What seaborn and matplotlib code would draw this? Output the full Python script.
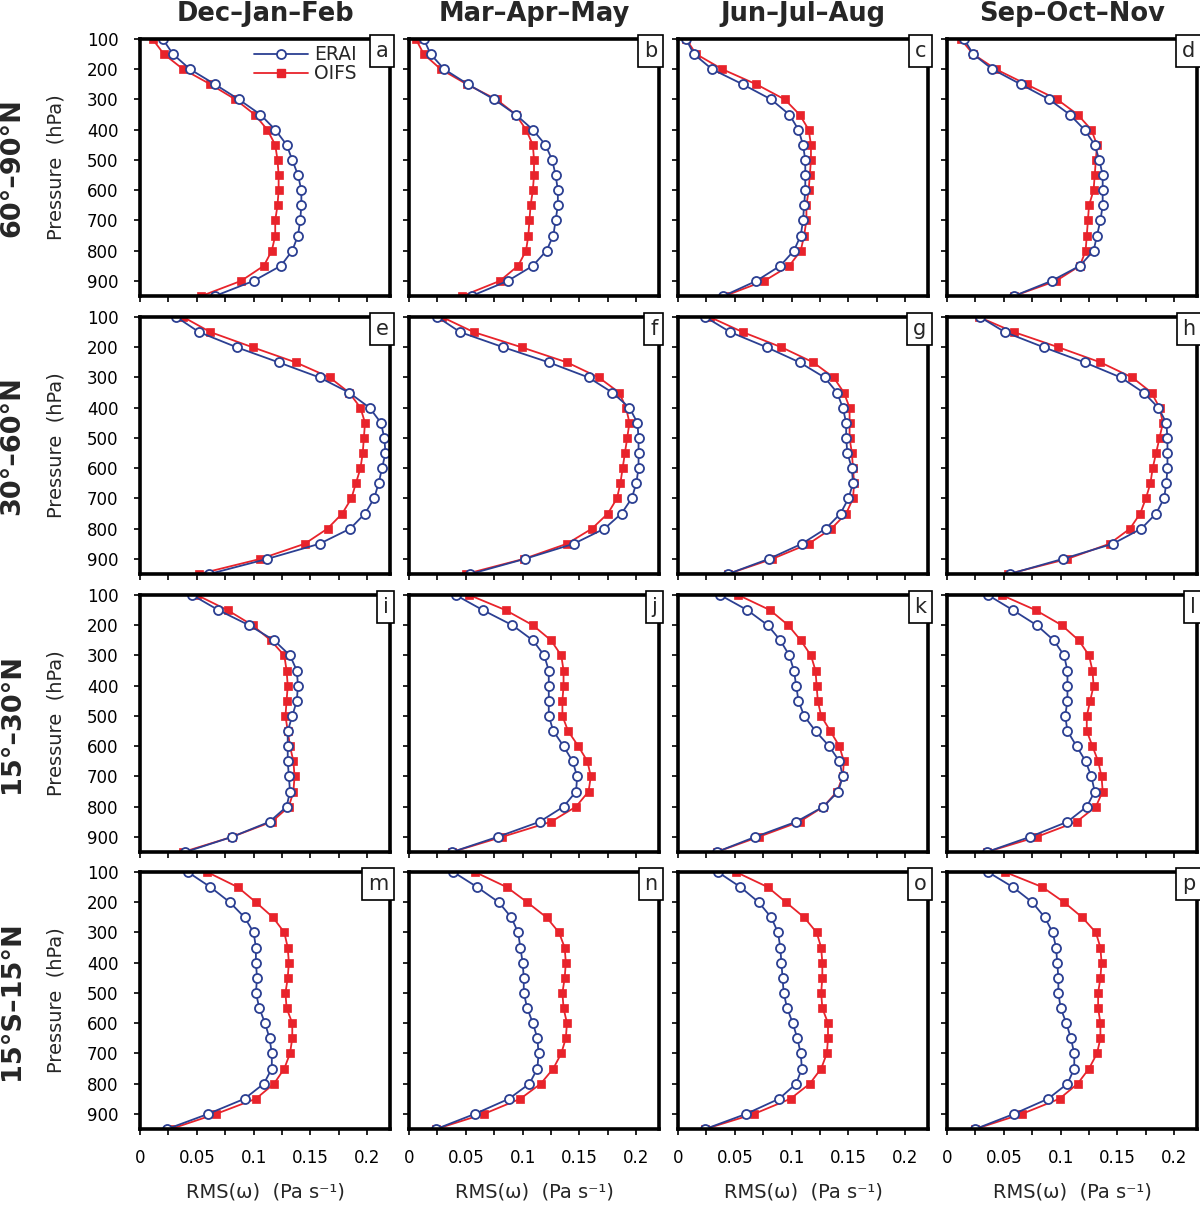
import matplotlib
matplotlib.use("Agg")
import matplotlib.pyplot as plt
import seaborn as sns
import pandas as pd
from matplotlib.ticker import MultipleLocator, FuncFormatter
from matplotlib.lines import Line2D

# ---------------- data ----------------
pressure = [100, 150, 200, 250, 300, 350, 400, 450, 500, 550, 600, 650, 700, 750, 800, 850, 900, 950]
seasons = ["Dec–Jan–Feb", "Mar–Apr–May", "Jun–Jul–Aug", "Sep–Oct–Nov"]
regions = ["60°–90°N", "30°–60°N", "15°–30°N", "15°S–15°N"]
letters = ["a", "b", "c", "d", "e", "f", "g", "h", "i", "j", "k", "l", "m", "n", "o", "p"]
series_names = ["ERAI", "OIFS"]
ytick_values = [100, 200, 300, 400, 500, 600, 700, 800, 900]

erai_a = [0.020, 0.029, 0.044, 0.066, 0.087, 0.106, 0.119, 0.129, 0.134, 0.139, 0.142, 0.142, 0.141, 0.139, 0.134, 0.124, 0.100, 0.066]
oifs_a = [0.011, 0.021, 0.038, 0.062, 0.084, 0.101, 0.112, 0.119, 0.121, 0.122, 0.122, 0.121, 0.119, 0.119, 0.116, 0.109, 0.089, 0.054]
erai_b = [0.013, 0.019, 0.031, 0.052, 0.075, 0.094, 0.109, 0.120, 0.126, 0.129, 0.131, 0.131, 0.129, 0.127, 0.121, 0.109, 0.087, 0.055]
oifs_b = [0.006, 0.013, 0.028, 0.051, 0.077, 0.094, 0.103, 0.109, 0.110, 0.110, 0.109, 0.107, 0.106, 0.105, 0.103, 0.096, 0.080, 0.047]
erai_c = [0.007, 0.014, 0.030, 0.057, 0.082, 0.098, 0.106, 0.110, 0.112, 0.112, 0.112, 0.111, 0.110, 0.108, 0.102, 0.090, 0.069, 0.040]
oifs_c = [0.007, 0.016, 0.039, 0.069, 0.094, 0.107, 0.115, 0.117, 0.117, 0.116, 0.115, 0.113, 0.113, 0.111, 0.108, 0.098, 0.076, 0.041]
erai_d = [0.015, 0.023, 0.040, 0.065, 0.090, 0.108, 0.121, 0.130, 0.134, 0.137, 0.137, 0.137, 0.135, 0.132, 0.129, 0.117, 0.092, 0.059]
oifs_d = [0.012, 0.023, 0.043, 0.070, 0.097, 0.115, 0.127, 0.132, 0.131, 0.130, 0.129, 0.125, 0.124, 0.123, 0.122, 0.117, 0.096, 0.059]
erai_e = [0.032, 0.052, 0.085, 0.122, 0.158, 0.184, 0.202, 0.212, 0.215, 0.216, 0.213, 0.210, 0.206, 0.198, 0.185, 0.158, 0.112, 0.061]
oifs_e = [0.038, 0.062, 0.099, 0.137, 0.167, 0.184, 0.194, 0.198, 0.197, 0.196, 0.194, 0.190, 0.186, 0.178, 0.165, 0.145, 0.106, 0.052]
erai_f = [0.025, 0.045, 0.083, 0.123, 0.158, 0.179, 0.194, 0.201, 0.202, 0.202, 0.202, 0.200, 0.196, 0.187, 0.172, 0.145, 0.102, 0.054]
oifs_f = [0.029, 0.057, 0.099, 0.139, 0.167, 0.185, 0.191, 0.194, 0.192, 0.190, 0.188, 0.186, 0.183, 0.175, 0.161, 0.139, 0.101, 0.050]
erai_g = [0.024, 0.046, 0.078, 0.107, 0.129, 0.140, 0.145, 0.148, 0.148, 0.149, 0.153, 0.154, 0.150, 0.143, 0.130, 0.109, 0.080, 0.044]
oifs_g = [0.028, 0.057, 0.091, 0.119, 0.137, 0.146, 0.151, 0.151, 0.151, 0.153, 0.154, 0.155, 0.154, 0.148, 0.135, 0.115, 0.083, 0.044]
erai_h = [0.029, 0.051, 0.085, 0.121, 0.153, 0.173, 0.186, 0.193, 0.194, 0.194, 0.194, 0.193, 0.191, 0.184, 0.171, 0.146, 0.102, 0.055]
oifs_h = [0.028, 0.059, 0.098, 0.135, 0.163, 0.180, 0.187, 0.190, 0.187, 0.184, 0.181, 0.179, 0.175, 0.170, 0.161, 0.143, 0.106, 0.054]
erai_i = [0.046, 0.069, 0.096, 0.118, 0.132, 0.138, 0.139, 0.138, 0.134, 0.130, 0.130, 0.130, 0.131, 0.132, 0.129, 0.114, 0.081, 0.040]
oifs_i = [0.050, 0.077, 0.099, 0.115, 0.127, 0.129, 0.130, 0.129, 0.128, 0.130, 0.132, 0.135, 0.136, 0.135, 0.131, 0.116, 0.081, 0.038]
erai_j = [0.041, 0.065, 0.091, 0.109, 0.119, 0.123, 0.123, 0.123, 0.123, 0.127, 0.136, 0.144, 0.148, 0.147, 0.136, 0.115, 0.078, 0.038]
oifs_j = [0.053, 0.085, 0.109, 0.125, 0.134, 0.136, 0.136, 0.135, 0.135, 0.140, 0.149, 0.157, 0.160, 0.158, 0.147, 0.125, 0.082, 0.038]
erai_k = [0.037, 0.061, 0.079, 0.090, 0.098, 0.102, 0.104, 0.106, 0.111, 0.121, 0.133, 0.142, 0.145, 0.141, 0.128, 0.104, 0.068, 0.034]
oifs_k = [0.053, 0.081, 0.097, 0.108, 0.117, 0.121, 0.122, 0.123, 0.126, 0.134, 0.142, 0.146, 0.145, 0.140, 0.128, 0.107, 0.071, 0.034]
erai_l = [0.036, 0.058, 0.079, 0.094, 0.103, 0.106, 0.106, 0.106, 0.104, 0.106, 0.114, 0.122, 0.127, 0.130, 0.123, 0.106, 0.073, 0.035]
oifs_l = [0.048, 0.078, 0.101, 0.116, 0.125, 0.128, 0.129, 0.126, 0.123, 0.123, 0.128, 0.133, 0.136, 0.137, 0.131, 0.114, 0.079, 0.035]
erai_m = [0.042, 0.062, 0.079, 0.092, 0.100, 0.102, 0.102, 0.103, 0.102, 0.105, 0.110, 0.114, 0.116, 0.116, 0.109, 0.092, 0.060, 0.024]
oifs_m = [0.059, 0.086, 0.102, 0.117, 0.127, 0.130, 0.131, 0.130, 0.128, 0.129, 0.134, 0.134, 0.132, 0.127, 0.118, 0.102, 0.067, 0.027]
erai_n = [0.039, 0.060, 0.079, 0.090, 0.096, 0.098, 0.100, 0.101, 0.101, 0.104, 0.109, 0.113, 0.114, 0.113, 0.106, 0.088, 0.058, 0.024]
oifs_n = [0.058, 0.086, 0.104, 0.121, 0.132, 0.137, 0.138, 0.137, 0.135, 0.136, 0.139, 0.138, 0.134, 0.127, 0.116, 0.098, 0.066, 0.024]
erai_o = [0.035, 0.055, 0.071, 0.082, 0.088, 0.090, 0.091, 0.092, 0.093, 0.096, 0.101, 0.105, 0.108, 0.109, 0.104, 0.089, 0.060, 0.024]
oifs_o = [0.051, 0.079, 0.095, 0.111, 0.122, 0.126, 0.127, 0.127, 0.126, 0.127, 0.132, 0.132, 0.131, 0.126, 0.116, 0.099, 0.067, 0.024]
erai_p = [0.036, 0.058, 0.075, 0.086, 0.093, 0.096, 0.097, 0.098, 0.098, 0.100, 0.105, 0.109, 0.112, 0.112, 0.106, 0.089, 0.059, 0.025]
oifs_p = [0.051, 0.084, 0.103, 0.119, 0.131, 0.135, 0.136, 0.135, 0.133, 0.133, 0.135, 0.135, 0.132, 0.125, 0.115, 0.099, 0.066, 0.025]

erai_all = [erai_a, erai_b, erai_c, erai_d, erai_e, erai_f, erai_g, erai_h,
            erai_i, erai_j, erai_k, erai_l, erai_m, erai_n, erai_o, erai_p]
oifs_all = [oifs_a, oifs_b, oifs_c, oifs_d, oifs_e, oifs_f, oifs_g, oifs_h,
            oifs_i, oifs_j, oifs_k, oifs_l, oifs_m, oifs_n, oifs_o, oifs_p]

# ---------------- style ----------------
sns.set_style("ticks")
plt.rcParams["font.family"] = ["DejaVu Sans"]

BLUE = "#2b3f92"
RED = "#e8232b"

W, H = 1200, 1205
fig = plt.figure(figsize=(W / 100, H / 100), dpi=100)
fig.patch.set_facecolor("white")

col_left = [140, 409, 678, 947]
row_top = [39, 317, 595, 872]
aw, ah = 250, 257

fmt = FuncFormatter(lambda v, pos: "0" if abs(v) < 1e-9 else ("%g" % round(v, 3)))

for r in range(4):
    for c in range(4):
        k = r * 4 + c
        l, t = col_left[c], row_top[r]
        ax = fig.add_axes([l / W, 1 - (t + ah) / H, aw / W, ah / H])
        df_o = pd.DataFrame({"p": pressure, "v": oifs_all[k]})
        df_e = pd.DataFrame({"p": pressure, "v": erai_all[k]})
        sns.lineplot(data=df_o, x="v", y="p", orient="y", estimator=None, ax=ax,
                     color=RED, lw=1.3, marker="s", markersize=5.2,
                     markerfacecolor=RED, markeredgecolor=RED, markeredgewidth=0.5)
        sns.lineplot(data=df_e, x="v", y="p", orient="y", estimator=None, ax=ax,
                     color=BLUE, lw=1.3, marker="o", markersize=6.5,
                     markerfacecolor="white", markeredgecolor=BLUE, markeredgewidth=1.3)
        ax.set_xlim(0, 0.22)
        ax.set_ylim(950, 100)
        ax.set_yticks(ytick_values)
        ax.xaxis.set_major_locator(MultipleLocator(0.05))
        ax.xaxis.set_minor_locator(MultipleLocator(0.025))
        ax.xaxis.set_major_formatter(fmt)
        ax.tick_params(which="both", direction="out", length=4.5, width=1.2,
                       top=False, right=False, labelsize=12, colors="black")
        ax.tick_params(axis="y", pad=11)
        ax.tick_params(axis="x", pad=10)
        if c != 0:
            ax.set_yticklabels([])
        if r != 3:
            ax.set_xticklabels([])
        ax.set_xlabel("")
        ax.set_ylabel("")
        for s in ax.spines.values():
            s.set_linewidth(2.6)
            s.set_color("black")
        ax.text(0.994, 0.993, letters[k], transform=ax.transAxes, ha="right", va="top",
                fontsize=15, zorder=10,
                bbox=dict(boxstyle="square,pad=0.28", fc="white", ec="black", lw=1.2))
        if k == 0:
            h_e = Line2D([], [], color=BLUE, lw=1.3, marker="o", markersize=6.5,
                         markerfacecolor="white", markeredgecolor=BLUE, markeredgewidth=1.3)
            h_o = Line2D([], [], color=RED, lw=1.3, marker="s", markersize=5.2,
                         markerfacecolor=RED, markeredgecolor=RED)
            ax.legend([h_e, h_o], series_names, loc="upper right",
                      bbox_to_anchor=(0.88, 0.99), frameon=False, fontsize=13.5,
                      handlelength=2.9, handletextpad=0.3, labelspacing=0.0,
                      borderaxespad=0.0, borderpad=0.2)

# column titles and x labels
for c in range(4):
    fig.text((col_left[c] + aw / 2) / W, 1 - 14 / H, seasons[c], ha="center", va="center",
             fontsize=18.5, fontweight="bold")
    fig.text((col_left[c] + aw / 2) / W, 1 - 1192 / H, "RMS(ω)  (Pa s⁻¹)",
             ha="center", va="center", fontsize=14)

# row labels
for r in range(4):
    yc = 1 - (row_top[r] + ah / 2) / H
    fig.text(12 / W, yc, regions[r], rotation=90, ha="center", va="center",
             fontsize=19.5, fontweight="bold")
    fig.text(56 / W, yc, "Pressure  (hPa)", rotation=90, ha="center", va="center",
             fontsize=14)

fig.savefig("out.png", dpi=100, facecolor="white")
